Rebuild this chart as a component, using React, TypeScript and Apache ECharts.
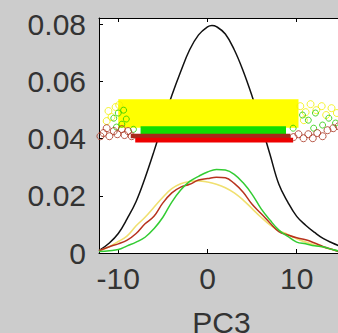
import React, { useEffect, useRef } from "react";
import * as echarts from "echarts";

// ---- data ----
const xTicks = [-10, 0, 10];
const yTicks = [0, 0.02, 0.04, 0.06, 0.08];
const xLabel = "PC3";

const blackX = [-12.16, -11, -10, -9, -8, -7, -6, -5, -4, -3, -2, -1, 0, 0.5, 1, 2, 3, 4, 5, 6, 7, 8, 9, 10, 11, 12, 13, 14, 15.3];
const blackY = [0.0008, 0.0035, 0.0068, 0.012, 0.018, 0.0262, 0.0355, 0.0455, 0.055, 0.0634, 0.071, 0.0762, 0.079, 0.0795, 0.0791, 0.0765, 0.071, 0.0636, 0.0548, 0.045, 0.0345, 0.024, 0.0178, 0.0128, 0.0097, 0.0072, 0.005, 0.0035, 0.0018];

const curveX = [-12.16, -11, -10, -9, -8, -7, -6, -5, -4, -3, -2, -1, 0, 1, 2, 3, 4, 5, 6, 7, 8, 9, 10, 11, 12, 13, 14, 15];
const greenY = [0.0005, 0.0008, 0.0012, 0.0025, 0.0038, 0.0055, 0.0085, 0.0125, 0.0178, 0.022, 0.025, 0.0268, 0.0283, 0.0292, 0.029, 0.0275, 0.0245, 0.0205, 0.0155, 0.0115, 0.008, 0.0058, 0.0038, 0.0032, 0.0025, 0.0021, 0.0012, 0.0005];
const redY = [0.0008, 0.0022, 0.0032, 0.0045, 0.0068, 0.0102, 0.0128, 0.0175, 0.021, 0.023, 0.024, 0.0255, 0.026, 0.0265, 0.0263, 0.0243, 0.0212, 0.017, 0.0138, 0.0105, 0.0075, 0.0063, 0.0053, 0.0046, 0.0035, 0.0022, 0.0012, 0.0002];
const yellowY = [0.0008, 0.0022, 0.004, 0.006, 0.0095, 0.0125, 0.016, 0.0195, 0.0225, 0.0242, 0.025, 0.0252, 0.0248, 0.024, 0.0228, 0.021, 0.0185, 0.0155, 0.0125, 0.0098, 0.0078, 0.0065, 0.005, 0.0038, 0.0028, 0.002, 0.0012, 0.0004];

// dense marker clouds: [xFrom, yFrom, xTo, yTo]
const bandYellow = [-10.0, 0.0438, 10.2, 0.0537];
const bandGreen = [-7.5, 0.0413, 8.8, 0.0443];
const bandDarkRed = [-8.6, 0.0401, 9.3, 0.0417];
const bandRed = [-8.1, 0.0386, 9.6, 0.0403];

// sparse markers at the edges of the clouds
const darkRedPts = [[-12.0, 0.0408], [-11.66, 0.0419], [-11.3, 0.0436], [-11.0, 0.0408], [-10.5, 0.0426], [-10.1, 0.0415], [-9.6, 0.0433], [-9.3, 0.0412], [-8.9, 0.0426], [-8.5, 0.0408], [9.64, 0.0405], [10.2, 0.0415], [10.76, 0.0401], [11.3, 0.0415], [11.8, 0.0401], [12.3, 0.0419], [12.9, 0.0408], [13.45, 0.0429], [14.1, 0.0436], [14.7, 0.0443]];
const greenPts = [[-10.5, 0.0471], [-10.0, 0.0489], [-9.4, 0.0499], [-9.6, 0.045], [-9.1, 0.0468], [-10.2, 0.044], [-8.3, 0.0432], [10.65, 0.0482], [11.3, 0.0464], [12.1, 0.0489], [12.9, 0.0447], [13.6, 0.0471], [14.35, 0.0454], [11.9, 0.0436], [9.6, 0.0436]];
const yellowPts = [[-11.1, 0.0496], [-10.76, 0.0475], [-10.3, 0.051], [-11.3, 0.0461], [-9.9, 0.0517], [10.4, 0.0513], [11.0, 0.0492], [11.55, 0.052], [12.2, 0.0499], [12.8, 0.0513], [13.3, 0.0482], [13.9, 0.0506], [14.5, 0.0489], [10.8, 0.0464]];

const zip = (xs: number[], ys: number[]) => xs.map((x, i) => [x, ys[i]]);
const band = (b: number[], color: string) => ({
  silent: true,
  z: 4,
  label: { show: false },
  itemStyle: { color, opacity: 1, borderWidth: 0 },
  data: [[{ coord: [b[0], b[1]] }, { coord: [b[2], b[3]] }]],
});

export default function App() {
  const ref = useRef<HTMLDivElement>(null);
  useEffect(() => {
    if (!ref.current) return;
    const chart = echarts.init(ref.current, undefined, { renderer: "svg" });
    const font = "'Liberation Sans', Arial, sans-serif";
    const textColor = "#333";
    const xMin = -12.16;
    const xMax = 15.3;
    const axisCommon = {
      type: "value" as const,
      min: xMin,
      max: xMax,
      splitLine: { show: false },
      axisLine: { show: true, onZero: false, lineStyle: { color: "#000", width: 1 } },
      axisTick: { show: true, inside: true, length: 4, lineStyle: { color: "#000" }, customValues: xTicks },
    };
    chart.setOption({
      animation: false,
      backgroundColor: "#cccccc",
      grid: {
        left: 99,
        top: 18,
        width: 245,
        height: 235,
        containLabel: false,
        outerBoundsMode: "none",
        show: true,
        backgroundColor: "#ffffff",
        borderWidth: 0,
      },
      xAxis: [
        {
          ...axisCommon,
          position: "bottom",
          axisLabel: { customValues: xTicks, fontSize: 30, color: textColor, fontFamily: font, margin: 10 },
          name: xLabel,
          nameLocation: "middle",
          nameGap: 54,
          nameTextStyle: { fontSize: 30, color: textColor, fontFamily: font },
        },
        {
          ...axisCommon,
          position: "top",
          axisLabel: { show: false },
        },
      ],
      yAxis: {
        type: "value",
        min: 0,
        max: 0.0821,
        splitLine: { show: false },
        axisLine: { show: true, onZero: false, lineStyle: { color: "#000", width: 1 } },
        axisTick: { show: true, inside: true, length: 4, lineStyle: { color: "#000" }, customValues: yTicks },
        axisLabel: {
          customValues: yTicks,
          fontSize: 30,
          color: textColor,
          fontFamily: font,
          margin: 13,
          formatter: (v: number) => (Math.abs(v) < 1e-9 ? "0" : v.toFixed(2)),
        },
      },
      series: [
        { type: "line", data: zip(blackX, blackY), showSymbol: false, smooth: 0.4, lineStyle: { color: "#111", width: 1.5 }, z: 2 },
        { type: "line", data: zip(curveX, yellowY), showSymbol: false, smooth: 0.4, lineStyle: { color: "#f0e070", width: 1.6 }, z: 2 },
        { type: "line", data: zip(curveX, redY), showSymbol: false, smooth: 0.4, lineStyle: { color: "#b8321e", width: 1.5 }, z: 2 },
        { type: "line", data: zip(curveX, greenY), showSymbol: false, smooth: 0.4, lineStyle: { color: "#33cc33", width: 1.5 }, z: 2 },
        {
          type: "scatter",
          data: yellowPts,
          symbol: "circle",
          symbolSize: 7,
          itemStyle: { color: "rgba(0,0,0,0)", borderColor: "#f2f000", borderWidth: 1 },
          markArea: band(bandYellow, "#ffff00"),
          z: 5,
        },
        {
          type: "scatter",
          data: greenPts,
          symbol: "circle",
          symbolSize: 6,
          itemStyle: { color: "rgba(0,0,0,0)", borderColor: "#22cc00", borderWidth: 1 },
          markArea: band(bandGreen, "#11dd00"),
          z: 5,
        },
        {
          type: "scatter",
          data: darkRedPts,
          symbol: "circle",
          symbolSize: 7,
          itemStyle: { color: "rgba(0,0,0,0)", borderColor: "#a8321e", borderWidth: 1 },
          markArea: band(bandDarkRed, "#a8281a"),
          z: 5,
        },
        {
          type: "scatter",
          data: [],
          markArea: band(bandRed, "#ee0000"),
          z: 5,
        },
      ],
    });
    return () => chart.dispose();
  }, []);
  return <div ref={ref} style={{ position: "fixed", left: 0, top: 0, width: 338, height: 333 }} />;
}
